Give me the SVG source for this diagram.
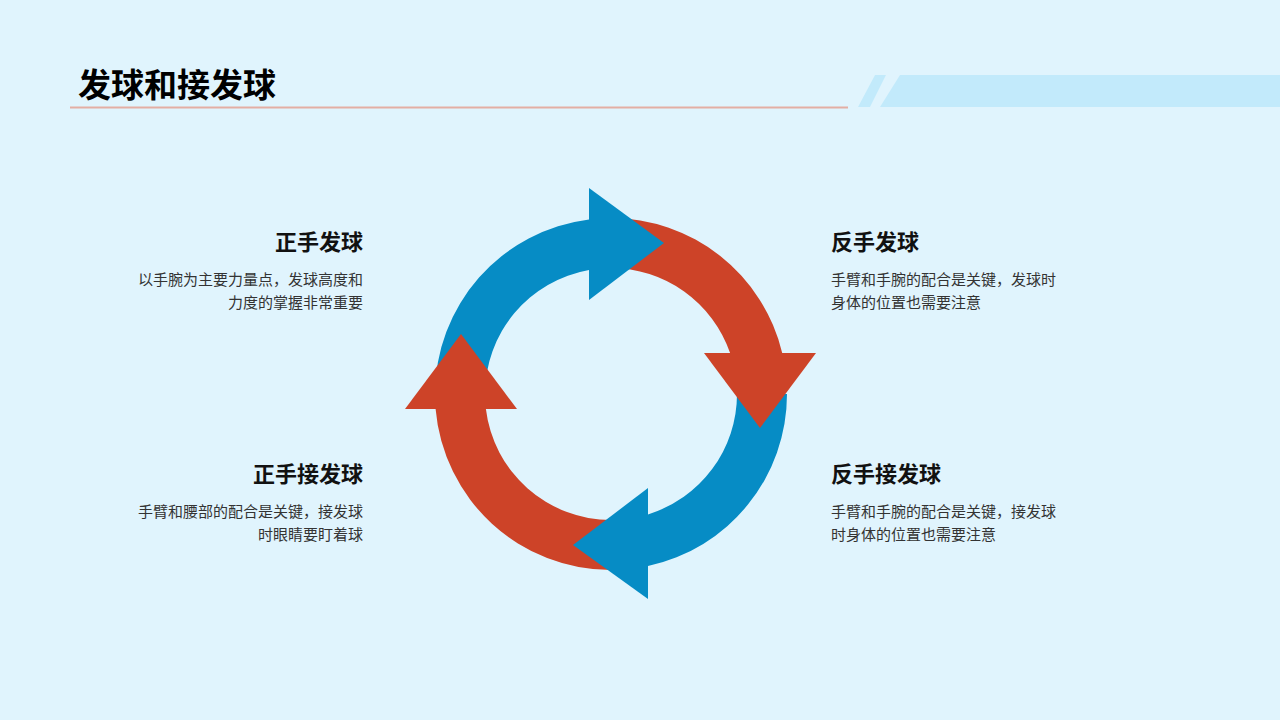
<svg xmlns="http://www.w3.org/2000/svg" width="1280" height="720" viewBox="0 0 1280 720">
<style>
.h{font-family:"Noto Sans CJK SC","Noto Sans",sans-serif;font-weight:bold;font-size:22px;fill:#111}
.d{font-family:"Noto Sans CJK SC","Noto Sans",sans-serif;font-size:15px;fill:#333}
.b{fill:#068CC5}.r{fill:#CD4328}
</style>
<rect width="1280" height="720" fill="#E0F4FD"/>
<g id="header">
<polygon points="875,75 886,75 870,107 858,107" fill="#C2EAFB"/>
<polygon points="900,75 1280,75 1280,107 880,107" fill="#C2EAFB"/>
<line x1="70" y1="107.5" x2="848" y2="107.5" stroke="#E3AEA4" stroke-width="2"/>
<text x="78" y="97" font-family="Noto Sans CJK SC,sans-serif" font-weight="bold" font-size="33" fill="#000">发球和接发球</text>
</g>
<g id="cycle">
<path class="b" d="M435,394 A176 176 0 0 1 589,219.4 L589,270 A126 126 0 0 0 485,394 Z"/>
<path class="r" d="M611,218 A176 176 0 0 1 782.2,353 L730.1,353 A126 126 0 0 0 611,268 Z"/>
<path class="b" d="M787,394 A176 176 0 0 1 648,566.1 L648,514.4 A126 126 0 0 0 737,394 Z"/>
<path class="r" d="M611,570 A176 176 0 0 1 435.6,409 L485.9,409 A126 126 0 0 0 611,520 Z"/>
<polygon class="b" points="589,188 664,243 589,300"/>
<polygon class="r" points="704,353 816,353 760,428"/>
<polygon class="b" points="648,488 648,599 573,545"/>
<polygon class="r" points="405,409 517,409 461,334"/>
</g>
<g id="n1" text-anchor="end">
<text class="h" x="363" y="250">正手发球</text>
<text class="d" x="363" y="285">以手腕为主要力量点，发球高度和</text>
<text class="d" x="363" y="308">力度的掌握非常重要</text>
</g>
<g id="n2">
<text class="h" x="831" y="250">反手发球</text>
<text class="d" x="831" y="285">手臂和手腕的配合是关键，发球时</text>
<text class="d" x="831" y="308">身体的位置也需要注意</text>
</g>
<g id="n3" text-anchor="end">
<text class="h" x="363" y="482">正手接发球</text>
<text class="d" x="363" y="517">手臂和腰部的配合是关键，接发球</text>
<text class="d" x="363" y="540">时眼睛要盯着球</text>
</g>
<g id="n4">
<text class="h" x="831" y="482">反手接发球</text>
<text class="d" x="831" y="517">手臂和手腕的配合是关键，接发球</text>
<text class="d" x="831" y="540">时身体的位置也需要注意</text>
</g>
</svg>
